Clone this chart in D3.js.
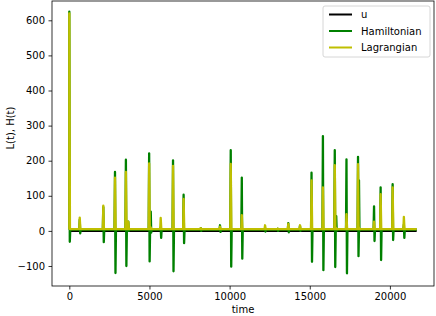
<!DOCTYPE html>
<html>
<head>
<meta charset="utf-8">
<script src="https://cdn.jsdelivr.net/npm/d3@7"></script>
<style>
  body { margin: 0; background: #fff; }
  text { font-family: "DejaVu Sans", sans-serif; }
</style>
</head>
<body>
<div class="svgWrap"></div>
<script>
// spike events: time, Hamiltonian peak/trough, Lagrangian peak
var spikeTimes = [0, 650, 2120, 2850, 3530, 3680, 4980, 5080, 5700, 6470, 7130, 8200, 9400, 10070, 10760, 12210, 13000, 13660, 14390, 15110, 15820, 16560, 16650, 17290, 18010, 18070, 19010, 19420, 20170, 20870];
var hamPeaks   = [625, 32, 68, 168, 203, 26, 221, 55, 10, 201, 103, 8, 16, 230, 152, 8, 6, 22, 14, 166, 270, 230, 42, 204, 211, 144, 70, 124, 133, 18];
var hamTroughs = [-31, -7, -32, -120, -100, 0, -87, -5, -20, -115, -35, 0, -3, -102, -79, -2, 0, -4, 0, -88, -112, -103, 0, -121, -72, 0, -29, -83, -26, -20];
var lagPeaks   = [620, 38, 72, 152, 168, 26, 192, 10, 37, 185, 91, 8, 12, 191, 45, 16, 6, 20, 16, 144, 124, 187, 8, 48, 190, 10, 26, 105, 124, 40];
var tStart = 0, tEnd = 21670;
var hamBase = 4, lagBase = 5;
var uTimes = [0, 21670];
var uValues = [0, 0];
var xTicks = [0, 5000, 10000, 15000, 20000];
var yTicks = [-100, 0, 100, 200, 300, 400, 500, 600];

var W = 436, H = 316;
var plotLeft = 52, plotRight = 434, plotTop = 1, plotBottom = 286;

var x = d3.scaleLinear().domain([-1080, 22750]).range([plotLeft, plotRight]);
var y = d3.scaleLinear().domain([-157, 655]).range([plotBottom, plotTop]);

// build the point lists from the spike arrays
var hamPts = [[tStart, hamBase]];
var lagPts = [[tStart, lagBase]];
spikeTimes.forEach(function(t, i){
  hamPts.push([t - 30, hamBase], [t, hamPeaks[i]], [t + 30, hamTroughs[i]], [t + 60, hamBase]);
  lagPts.push([t - 30, lagBase], [t, lagPeaks[i]], [t + 40, lagBase]);
});
hamPts.push([tEnd, hamBase]);
lagPts.push([tEnd, lagBase]);
hamPts = hamPts.filter(function(p){ return p[0] >= tStart; });
lagPts = lagPts.filter(function(p){ return p[0] >= tStart; });
var uPts = uTimes.map(function(t, i){ return [t, uValues[i]]; });

var svg = d3.select(".svgWrap").append("svg")
  .attr("width", W).attr("height", H);

svg.append("defs").append("clipPath").attr("id", "clip")
  .append("rect").attr("x", plotLeft).attr("y", plotTop)
  .attr("width", plotRight - plotLeft).attr("height", plotBottom - plotTop);

var line = d3.line()
  .x(function(d){ return x(d[0]); })
  .y(function(d){ return y(d[1]); });

var plot = svg.append("g").attr("clip-path", "url(#clip)");
plot.append("path").datum(uPts).attr("d", line)
  .attr("fill", "none").attr("stroke", "#000").attr("stroke-width", 2);
plot.append("path").datum(hamPts).attr("d", line)
  .attr("fill", "none").attr("stroke", "#008000").attr("stroke-width", 2.3)
  .attr("stroke-linejoin", "round");
plot.append("path").datum(lagPts).attr("d", line)
  .attr("fill", "none").attr("stroke", "#bfbf00").attr("stroke-width", 2.3)
  .attr("stroke-linejoin", "round");

// axes
var xAxis = svg.append("g")
  .attr("transform", "translate(0," + plotBottom + ")")
  .call(d3.axisBottom(x).tickValues(xTicks).tickFormat(d3.format("d"))
    .tickSizeOuter(0).tickSize(3.5).tickPadding(3.5));
var yAxis = svg.append("g")
  .attr("transform", "translate(" + plotLeft + ",0)")
  .call(d3.axisLeft(y).tickValues(yTicks).tickSizeOuter(0).tickSize(3.5).tickPadding(3.5));
[xAxis, yAxis].forEach(function(a){
  a.select(".domain").remove();
  a.selectAll("text").attr("font-family", "DejaVu Sans").attr("font-size", 10).attr("fill", "#000");
  a.selectAll("line").attr("stroke", "#000").attr("stroke-width", 0.8);
});

// frame
svg.append("rect").attr("x", plotLeft).attr("y", plotTop)
  .attr("width", plotRight - plotLeft).attr("height", plotBottom - plotTop)
  .attr("fill", "none").attr("stroke", "#000").attr("stroke-width", 0.8);

// labels
svg.append("text").attr("x", (plotLeft + plotRight) / 2).attr("y", 313)
  .attr("text-anchor", "middle").attr("font-size", 10).text("time");
svg.append("text")
  .attr("transform", "translate(14,128) rotate(-90)")
  .attr("text-anchor", "middle").attr("font-size", 10).text("L(t), H(t)");

// legend
var legend = svg.append("g");
legend.append("rect").attr("x", 323).attr("y", 6).attr("width", 107).attr("height", 51)
  .attr("rx", 2).attr("fill", "#fff").attr("fill-opacity", 0.8)
  .attr("stroke", "#ccc").attr("stroke-width", 0.8);
var legItems = [["u", "#000"], ["Hamiltonian", "#008000"], ["Lagrangian", "#bfbf00"]];
legItems.forEach(function(d, i){
  var ly = 14.5 + i * 16.5;
  legend.append("line").attr("x1", 329).attr("x2", 352).attr("y1", ly).attr("y2", ly)
    .attr("stroke", d[1]).attr("stroke-width", 2);
  legend.append("text").attr("x", 361).attr("y", ly + 3.5).attr("font-size", 10).text(d[0]);
});
</script>
</body>
</html>
